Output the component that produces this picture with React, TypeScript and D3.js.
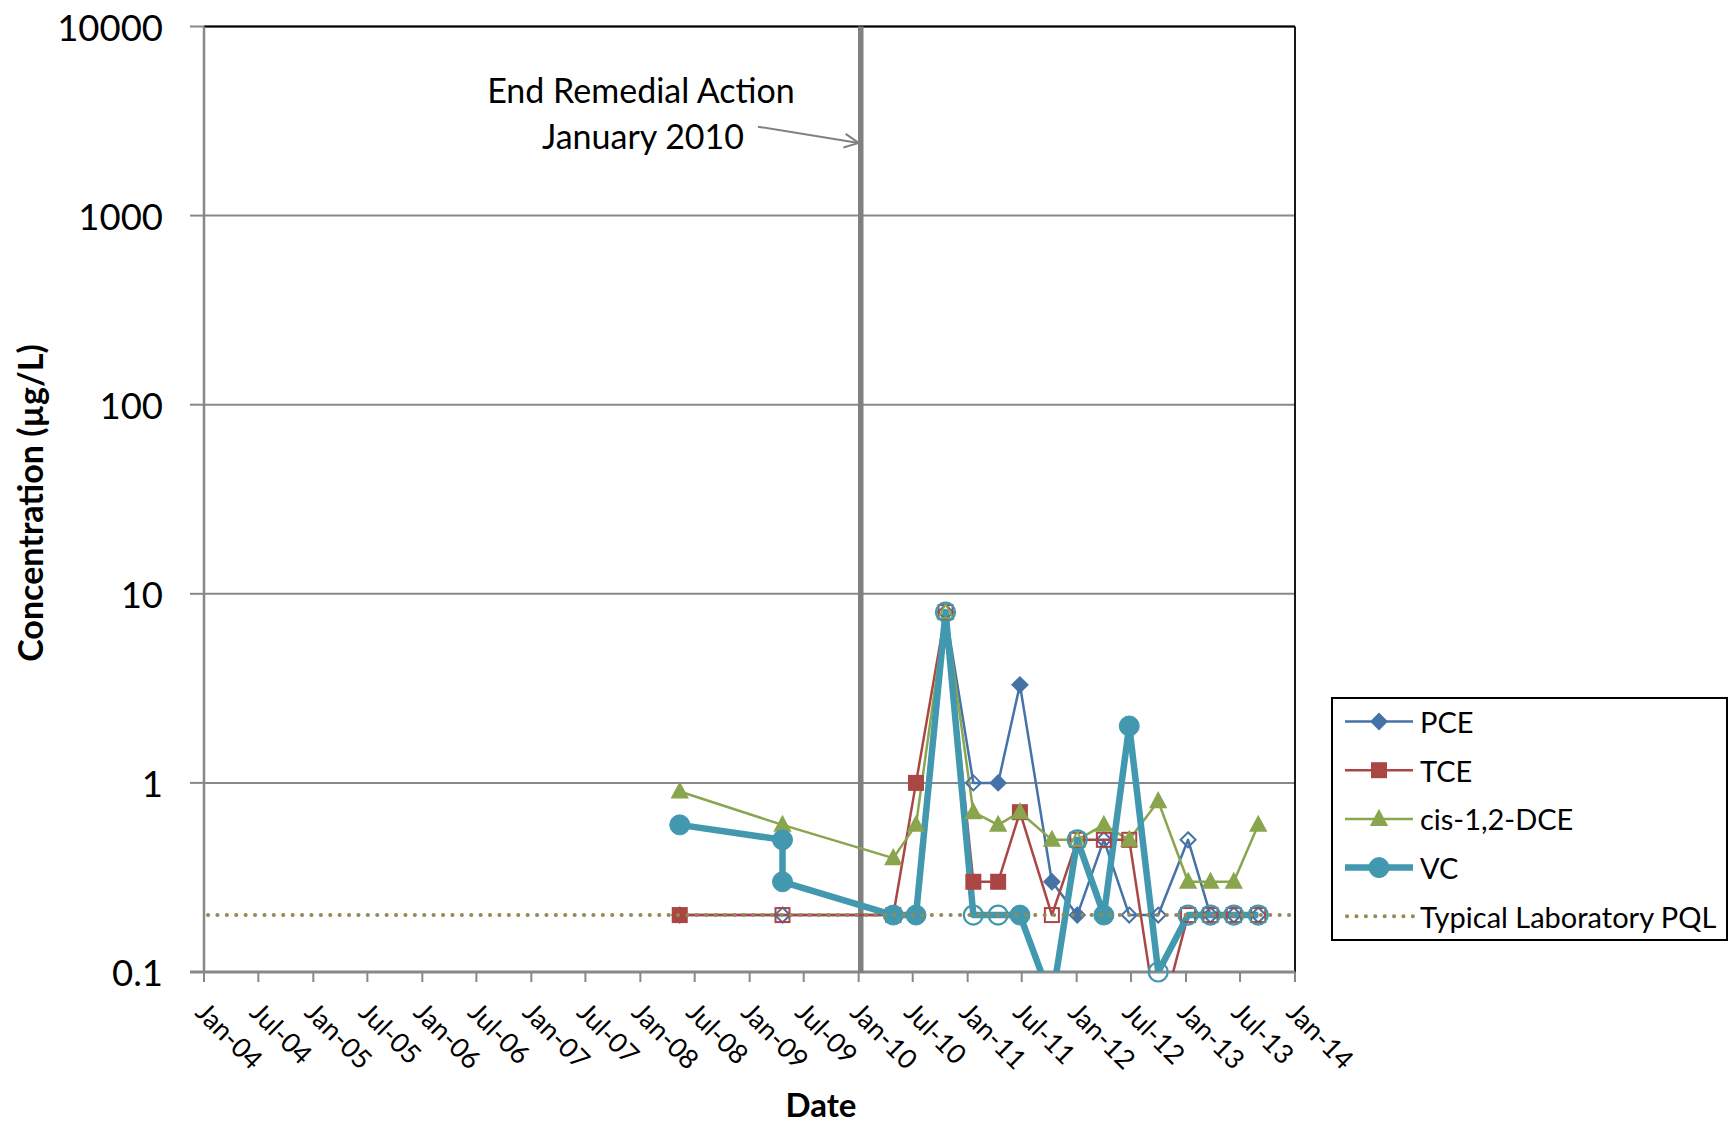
import React from "react";
import * as d3 from "d3";

// ---------- data ----------
const sampleDates = [
  "2008-05-12", "2009-04-21", "2010-04-27", "2010-07-12", "2010-10-19",
  "2011-01-20", "2011-04-13", "2011-06-25", "2011-10-10", "2012-01-03",
  "2012-04-01", "2012-06-25", "2012-09-30", "2013-01-08", "2013-03-24",
  "2013-06-10", "2013-08-31",
];
const pceValues = [0.2, 0.2, 0.2, 0.2, 8, 1, 1, 3.3, 0.3, 0.2, 0.5, 0.2, 0.2, 0.5, 0.2, 0.2, 0.2];
const pceDetected = [0, 0, 0, 0, 0, 0, 1, 1, 1, 1, 0, 0, 0, 0, 0, 0, 0];
const tceValues = [0.2, 0.2, 0.2, 1, 8, 0.3, 0.3, 0.7, 0.2, 0.5, 0.5, 0.5, 0.05, 0.2, 0.2, 0.2, 0.2];
const tceDetected = [1, 0, 0, 1, 0, 1, 1, 1, 0, 0, 0, 0, 0, 0, 0, 0, 0];
const dceValues = [0.9, 0.6, 0.4, 0.6, 8, 0.7, 0.6, 0.7, 0.5, 0.5, 0.6, 0.5, 0.8, 0.3, 0.3, 0.3, 0.6];
const dceDetected = [1, 1, 1, 1, 0, 1, 1, 1, 1, 0, 1, 1, 1, 1, 1, 1, 1];
const vcDates = [
  "2008-05-12", "2009-04-21", "2009-04-21", "2010-04-27", "2010-07-12", "2010-10-19",
  "2011-01-20", "2011-04-13", "2011-06-25", "2011-10-10", "2012-01-03",
  "2012-04-01", "2012-06-25", "2012-09-30", "2013-01-08", "2013-03-24",
  "2013-06-10", "2013-08-31",
];
const vcValues = [0.6, 0.5, 0.3, 0.2, 0.2, 8, 0.2, 0.2, 0.2, 0.07, 0.5, 0.2, 2, 0.1, 0.2, 0.2, 0.2, 0.2];
const vcDetected = [1, 1, 1, 1, 1, 0, 0, 0, 1, 1, 0, 1, 1, 0, 0, 0, 0, 0];
const pqlValue = 0.2;

const seriesNames = ["PCE", "TCE", "cis-1,2-DCE", "VC"];
const pqlLabel = "Typical Laboratory PQL";
const yTickValues = [0.1, 1, 10, 100, 1000, 10000];
const yTickLabels = ["0.1", "1", "10", "100", "1000", "10000"];
const xStart = "2004-01-01";
const xEnd = "2014-01-01";
const remedialDate = "2010-01-08";
const annotationLines = ["End Remedial Action", "January 2010"];
const yTitle = "Concentration (µg/L)";
const xTitle = "Date";

// ---------- layout ----------
const W = 1728;
const H = 1123;
const L = 204;
const R = 1295;
const T = 26.5;
const B = 972;
const FONT = "Lato, 'Open Sans', sans-serif";
const GRID = "#888888";

const parse = (s: string) => {
  const [y, m, d] = s.split("-").map(Number);
  return new Date(Date.UTC(y, m - 1, d));
};

const x = d3.scaleUtc().domain([parse(xStart), parse(xEnd)]).range([L, R]);
const y = d3.scaleLog().domain([0.1, 10000]).range([B, T]);

type MarkerType = "diamond" | "square" | "triangle" | "circle";

function Marker({ type, cx, cy, color, filled, legend }: { type: MarkerType; cx: number; cy: number; color: string; filled: boolean; legend?: boolean }) {
  const fill = filled ? color : "none";
  const sw = 2;
  if (type === "diamond") {
    const s = 7.5;
    return <polygon points={`${cx},${cy - s} ${cx + s},${cy} ${cx},${cy + s} ${cx - s},${cy}`} fill={fill} stroke={color} strokeWidth={sw} />;
  }
  if (type === "square") {
    const s = 7;
    return <rect x={cx - s} y={cy - s} width={2 * s} height={2 * s} fill={fill} stroke={color} strokeWidth={sw} />;
  }
  if (type === "triangle") {
    return <polygon points={`${cx},${cy - 8} ${cx + 7.5},${cy + 6} ${cx - 7.5},${cy + 6}`} fill={fill} stroke={color} strokeWidth={sw} />;
  }
  return <circle cx={cx} cy={cy} r={filled || legend ? 10 : 9.5} fill={fill} stroke={color} strokeWidth={filled ? 1 : 2.2} />;
}

const series = [
  { name: seriesNames[0], dates: sampleDates, values: pceValues, det: pceDetected, color: "#4572A7", width: 2.5, marker: "diamond" as MarkerType },
  { name: seriesNames[1], dates: sampleDates, values: tceValues, det: tceDetected, color: "#AA4643", width: 2.5, marker: "square" as MarkerType },
  { name: seriesNames[2], dates: sampleDates, values: dceValues, det: dceDetected, color: "#89A54E", width: 2.5, marker: "triangle" as MarkerType },
  { name: seriesNames[3], dates: vcDates, values: vcValues, det: vcDetected, color: "#4198AF", width: 6.5, marker: "circle" as MarkerType },
];

export default function App() {
  const line = d3
    .line<[Date, number]>()
    .x((d) => x(d[0]))
    .y((d) => y(Math.max(d[1], 0.01)));

  const xTicks = d3.utcMonth.every(6)!.range(parse(xStart), new Date(parse(xEnd).getTime() + 86400000));
  const fmt = d3.utcFormat("%b-%y");
  const remX = x(parse(remedialDate));

  // arrow
  const ax1 = 758, ay1 = 126.7, ax2 = remX - 2, ay2 = 143;
  const ang = Math.atan2(ay2 - ay1, ax2 - ax1);
  const ah = 16;
  const h1 = [ax2 - ah * Math.cos(ang - 0.45), ay2 - ah * Math.sin(ang - 0.45)];
  const h2 = [ax2 - ah * Math.cos(ang + 0.45), ay2 - ah * Math.sin(ang + 0.45)];

  const legX = 1332, legY = 698, legW = 395, legH = 242;
  const legRow = (i: number) => 721.5 + i * 48.7;

  return (
    <svg width={W} height={H} style={{ position: "absolute", left: 0, top: 0, display: "block", background: "#fff" }} fontFamily={FONT}>
      <defs>
        <clipPath id="plotClip">
          <rect x={L} y={T} width={R - L} height={B - T} />
        </clipPath>
      </defs>
      <rect x={0} y={0} width={W} height={H} fill="#fff" />

      {/* gridlines */}
      {yTickValues.slice(1).map((v) => (
        <line key={"g" + v} x1={L} x2={R} y1={y(v)} y2={y(v)} stroke={GRID} strokeWidth={2} />
      ))}
      {/* y tick marks */}
      {yTickValues.map((v) => (
        <line key={"yt" + v} x1={190} x2={L} y1={y(v)} y2={y(v)} stroke={GRID} strokeWidth={2} />
      ))}
      {/* plot border top/right */}
      <line x1={L} x2={R} y1={T} y2={T} stroke="#000" strokeWidth={1.8} />
      <line x1={R} x2={R} y1={T} y2={B} stroke="#000" strokeWidth={1.8} />
      {/* axes */}
      <line x1={L} x2={L} y1={T} y2={B} stroke={GRID} strokeWidth={2.5} />
      <line x1={190} x2={R} y1={B} y2={B} stroke={GRID} strokeWidth={3} />
      {xTicks.map((d, i) => (
        <line key={"xt" + i} x1={x(d)} x2={x(d)} y1={B} y2={B + 10} stroke={GRID} strokeWidth={2} />
      ))}

      {/* y tick labels */}
      {yTickValues.map((v, i) => (
        <text key={"yl" + v} x={163} y={y(v)} textAnchor="end" dominantBaseline="central" fontSize={36.5} fill="#000">
          {yTickLabels[i]}
        </text>
      ))}
      {/* x tick labels */}
      {xTicks.map((d, i) => (
        <text key={"xl" + i} transform={`translate(${x(d) - 10},${1014}) rotate(45)`} fontSize={27} fill="#000">
          {fmt(d)}
        </text>
      ))}

      {/* remedial line */}
      <line x1={remX} x2={remX} y1={T} y2={B + 1} stroke="#808080" strokeWidth={5.5} />

      {/* series */}
      <g clipPath="url(#plotClip)">
        {series.map((s) => (
          <path
            key={"l" + s.name}
            d={line(s.dates.map((dd, i) => [parse(dd), s.values[i]] as [Date, number])) || ""}
            fill="none"
            stroke={s.color}
            strokeWidth={s.width}
            strokeLinejoin="round"
          />
        ))}
      </g>
      {series.map((s) =>
        s.dates.map((dd, i) =>
          s.values[i] >= 0.099 ? (
            <Marker key={"m" + s.name + i} type={s.marker} cx={x(parse(dd))} cy={y(s.values[i])} color={s.color} filled={s.det[i] === 1} />
          ) : null
        )
      )}

      {/* PQL */}
      <line x1={L + 4} x2={R} y1={y(pqlValue)} y2={y(pqlValue)} stroke="#948A54" strokeWidth={4} strokeDasharray="0.1 9.3" strokeLinecap="round" />

      {/* annotation */}
      <text x={641} y={103} textAnchor="middle" fontSize={34} fill="#000">{annotationLines[0]}</text>
      <text x={643} y={149} textAnchor="middle" fontSize={34} fill="#000">{annotationLines[1]}</text>
      <line x1={ax1} y1={ay1} x2={ax2} y2={ay2} stroke="#808080" strokeWidth={2} />
      <polyline points={`${h1[0]},${h1[1]} ${ax2},${ay2} ${h2[0]},${h2[1]}`} fill="none" stroke="#808080" strokeWidth={2} />

      {/* axis titles */}
      <text transform={`translate(43,503) rotate(-90)`} textAnchor="middle" fontSize={34} fontWeight="bold" fill="#000">{yTitle}</text>
      <text x={821} y={1117} textAnchor="middle" fontSize={33} fontWeight="bold" fill="#000">{xTitle}</text>

      {/* legend */}
      <rect x={legX} y={legY} width={legW} height={legH} fill="#fff" stroke="#000" strokeWidth={2} />
      {series.map((s, i) => (
        <g key={"lg" + s.name}>
          <line x1={1345} x2={1413} y1={legRow(i)} y2={legRow(i)} stroke={s.color} strokeWidth={s.width} />
          <Marker type={s.marker} cx={1379} cy={legRow(i)} color={s.color} filled={true} legend />
          <text x={1420} y={legRow(i)} dominantBaseline="central" fontSize={29} fill="#000">{s.name}</text>
        </g>
      ))}
      <line x1={1347} x2={1413} y1={legRow(4)} y2={legRow(4)} stroke="#948A54" strokeWidth={4} strokeDasharray="0.1 9.3" strokeLinecap="round" />
      <text x={1420} y={legRow(4)} dominantBaseline="central" fontSize={29} fill="#000">{pqlLabel}</text>
    </svg>
  );
}
